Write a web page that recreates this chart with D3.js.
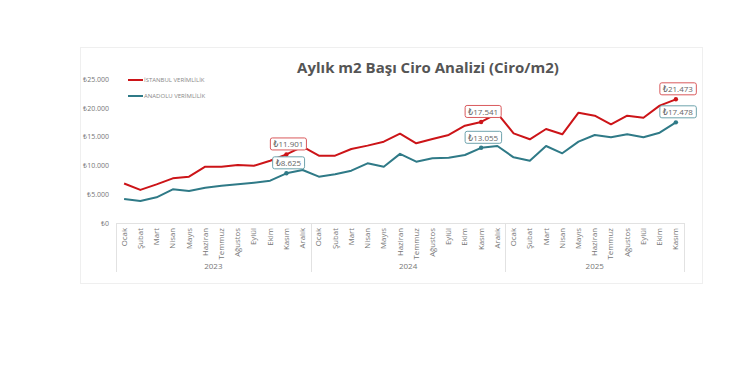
<!DOCTYPE html>
<html>
<head>
<meta charset="utf-8">
<script src="https://cdn.jsdelivr.net/npm/d3@7"></script>
<style>
body { margin: 0; background: #fff; font-family: "Open Sans", "DejaVu Sans", sans-serif; }
#vis { width: 741px; height: 380px; }
</style>
</head>
<body>
<div id="vis"></div>
<script>
var months = ['Ocak', 'Şubat', 'Mart', 'Nisan', 'Mayıs', 'Haziran', 'Temmuz', 'Ağustos', 'Eylül', 'Ekim', 'Kasım', 'Aralık'];
var years = ['2023', '2024', '2025'];
var monthsPerYear = [12, 12, 11];

var istanbul = [6850, 5750, 6700, 7750, 8050, 9780, 9780, 10070, 9950, 10800, 11901, 13250,
    11690, 11690, 12850, 13430, 14120, 15500, 13830, 14580, 15280, 16900, 17541, 19040,
    15570, 14530, 16320, 15400, 19150, 18630, 17130, 18630, 18280, 20370, 21473];
var anadolu = [4170, 3820, 4460, 5850, 5560, 6130, 6480, 6710, 7000, 7350, 8625, 9200,
    8040, 8450, 9080, 10360, 9780, 12000, 10650, 11230, 11340, 11800, 13055, 13370,
    11400, 10820, 13370, 12100, 14120, 15280, 14880, 15400, 14880, 15680, 17478];
var yTicks = [0, 5000, 10000, 15000, 20000, 25000];
var labelled = [10, 22, 34];

var series = [
    { name: 'İSTANBUL VERİMLİLİK', values: istanbul, color: '#cc1418' },
    { name: 'ANADOLU VERİMLİLİK', values: anadolu, color: '#2f7a87' }
];

var locale = d3.formatLocale({ decimal: ',', thousands: '.', grouping: [3], currency: ['₺', ''] });
var fmt = locale.format('$,.0f');

var width = 741, height = 380;
var svg = d3.select('#vis').append('svg').attr('width', width).attr('height', height);

// card
svg.append('rect')
    .attr('x', 80.5).attr('y', 47.5).attr('width', 622).attr('height', 236)
    .attr('fill', '#fff').attr('stroke', '#efefef');

svg.append('text')
    .attr('x', 428).attr('y', 73)
    .attr('text-anchor', 'middle')
    .attr('font-size', 15).attr('font-weight', 'bold').attr('fill', '#555')
    .text('Aylık m2 Başı Ciro Analizi (Ciro/m2)');

// rows: one per month
var rows = [];
years.forEach(function(y, yi) {
    for (var m = 0; m < monthsPerYear[yi]; m++) rows.push({ year: y, month: months[m] });
});

var x = d3.scaleBand().domain(d3.range(rows.length)).range([116, 684]);
var y = d3.scaleLinear().domain([0, 25000]).range([223, 79]);
var cx = function(i) { return x(i) + x.bandwidth() / 2; };

// y axis
var yAxis = svg.append('g')
    .attr('transform', 'translate(116,0)')
    .call(d3.axisLeft(y).tickValues(yTicks).tickFormat(fmt).tickSize(0).tickPadding(7));
yAxis.select('.domain').remove();
yAxis.selectAll('text').attr('font-size', 7).attr('fill', '#777').attr('font-family', 'Open Sans, sans-serif');

// x axis frame
var grey = '#e2e2e2';
svg.append('line').attr('x1', 116).attr('x2', 684).attr('y1', 223.5).attr('y2', 223.5).attr('stroke', grey);
var bounds = [0];
monthsPerYear.reduce(function(a, n) { bounds.push(a + n); return a + n; }, 0);
bounds.forEach(function(b) {
    var bx = b < rows.length ? x(b) : x.range()[1];
    svg.append('line')
        .attr('x1', Math.round(bx) + 0.5).attr('x2', Math.round(bx) + 0.5)
        .attr('y1', 223).attr('y2', 272)
        .attr('stroke', grey);
});

// month labels
svg.selectAll('.month')
    .data(rows)
    .enter().append('text')
    .attr('class', 'month')
    .attr('transform', function(d, i) { return 'translate(' + (cx(i) + 2.5) + ',228) rotate(-90)'; })
    .attr('text-anchor', 'end')
    .attr('font-size', 7.8).attr('fill', '#777')
    .text(function(d) { return d.month; });

// year labels
years.forEach(function(yr, yi) {
    var a = x(bounds[yi]);
    var b = bounds[yi + 1] < rows.length ? x(bounds[yi + 1]) : x.range()[1];
    svg.append('text')
        .attr('x', (a + b) / 2).attr('y', 269)
        .attr('text-anchor', 'middle')
        .attr('font-size', 8).attr('fill', '#777')
        .text(yr);
});

// lines
var line = d3.line()
    .x(function(d, i) { return cx(i); })
    .y(function(d) { return y(d); });

series.forEach(function(s) {
    svg.append('path')
        .datum(s.values)
        .attr('d', line)
        .attr('fill', 'none')
        .attr('stroke', s.color)
        .attr('stroke-width', 2)
        .attr('stroke-linejoin', 'round');
});

// labels on selected points
series.forEach(function(s, si) {
    labelled.forEach(function(i) {
        var px = cx(i), py = y(s.values[i]);
        svg.append('circle').attr('cx', px).attr('cy', py).attr('r', 2.2).attr('fill', s.color);
        var g = svg.append('g');
        var t = g.append('text')
            .attr('x', px + 2).attr('y', py - 7)
            .attr('text-anchor', 'middle')
            .attr('font-size', 8).attr('fill', '#666')
            .text(fmt(s.values[i]));
        var bb = t.node().getBBox();
        g.insert('rect', 'text')
            .attr('x', bb.x - 3).attr('y', bb.y - 0.5)
            .attr('width', bb.width + 6).attr('height', bb.height + 1)
            .attr('rx', 2)
            .attr('fill', '#fff')
            .attr('stroke', si === 0 ? '#d9595c' : '#6ea3ad')
            .attr('stroke-width', 1);
    });
});

// legend
series.forEach(function(s, i) {
    var ly = 80 + i * 16;
    svg.append('line')
        .attr('x1', 128).attr('x2', 143).attr('y1', ly).attr('y2', ly)
        .attr('stroke', s.color).attr('stroke-width', 2);
    svg.append('text')
        .attr('x', 144).attr('y', ly + 2)
        .attr('font-size', 6).attr('fill', '#888')
        .text(s.name);
});
</script>
</body>
</html>
